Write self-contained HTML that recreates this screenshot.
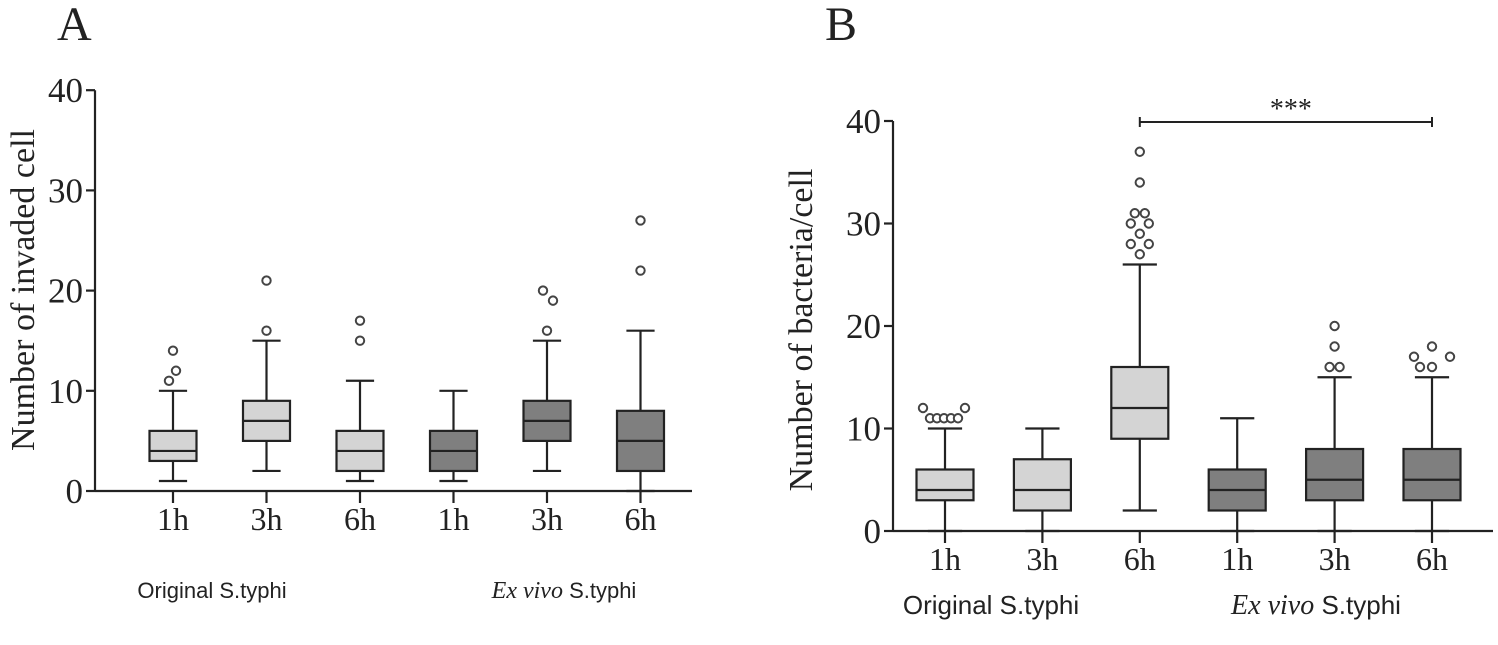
<!DOCTYPE html>
<html><head><meta charset="utf-8"><style>
body{margin:0;background:#fff}
svg text{font-family:"Liberation Serif",serif;fill:#222}
</style></head><body>
<svg id="c" width="1498" height="640" viewBox="0 0 1498 640"></svg>
<script>
const catsA=["1h","3h","6h","1h","3h","6h"];
const statsA=[[1,3,4,6,10],[2,5,7,9,15],[1,2,4,6,11],[1,2,4,6,10],[2,5,7,9,15],[0,2,5,8,16]];
const outA=[[11,12,14],[16,21],[15,17],[],[16,19,20],[22,27]];
const outAdx=[[-4,3,0],[0,0],[0,0],[],[0,6,-4],[0,0]];
const statsB=[[0,3,4,6,10],[0,2,4,7,10],[2,9,12,16,26],[0,2,4,6,11],[0,3,5,8,15],[0,3,5,8,15]];
const outB=[[12,11,11,11,11,11,12],[],[27,28,28,29,30,30,31,31,34,37],[],[16,16,18,20],[16,16,17,17,18]];
const outBdx=[[-22,-15,-8,-1,6,13,20],[],[0,-9,9,0,-9,9,-5,5,0,0],[],[-5,5,0,0],[-12,0,-18,18,0]];
const yTicks=[0,10,20,30,40];
const svg=document.getElementById('c');
const NS="http://www.w3.org/2000/svg";
function mk(t,a,p){const e=document.createElementNS(NS,t);for(const k in a)e.setAttribute(k,a[k]);(p||svg).appendChild(e);return e;}
function panel(o){
  const g=mk('g',{});
  
  
  const y=v=>o.y0-v*o.py, x=i=>o.x0+i*o.dx;
  mk('line',{x1:o.ax,y1:y(40),x2:o.ax,y2:o.y0,stroke:'#222','stroke-width':2.2},g);
  mk('line',{x1:o.ax,y1:o.y0,x2:o.axEnd,y2:o.y0,stroke:'#222','stroke-width':2.2},g);
  yTicks.forEach(t=>{mk('line',{x1:o.ax-9,y1:y(t),x2:o.ax,y2:y(t),stroke:'#222','stroke-width':2.2},g);
    const tx=mk('text',{x:o.ax-12,y:y(t)+12,'text-anchor':'end','font-size':35},g);tx.textContent=t;
    });
  o.stats.forEach((s,i)=>{
    const cx=x(i),w=o.bw,fill=i<3?'#d4d4d4':'#7f7f7f';
    mk('line',{x1:cx,y1:o.y0,x2:cx,y2:o.y0+12,stroke:'#222','stroke-width':2.2},g);
    const bg=mk('g',{},g);
    
    
    mk('line',{x1:cx,y1:y(s[0]),x2:cx,y2:y(s[4]),stroke:'#222','stroke-width':2.2},bg);
    mk('line',{x1:cx-w*0.3,y1:y(s[0]),x2:cx+w*0.3,y2:y(s[0]),stroke:'#222','stroke-width':2.2},bg);
    mk('line',{x1:cx-w*0.3,y1:y(s[4]),x2:cx+w*0.3,y2:y(s[4]),stroke:'#222','stroke-width':2.2},bg);
    mk('rect',{x:cx-w/2,y:y(s[3]),width:w,height:y(s[1])-y(s[3]),fill:fill,stroke:'#222','stroke-width':2.2},bg);
    mk('line',{x1:cx-w/2,y1:y(s[2]),x2:cx+w/2,y2:y(s[2]),stroke:'#222','stroke-width':2.2},bg);
    o.out[i].forEach((v,j)=>{const c=mk('circle',{cx:cx+o.odx[i][j],cy:y(v),r:4.2,fill:'#fff',stroke:'#444','stroke-width':2},bg);
      });
    const t=mk('text',{x:cx,y:o.catY,'text-anchor':'middle','font-size':32},g);t.textContent=catsA[i];
    
  });
  const t1=mk('text',{x:o.g1x,y:o.grpY,'text-anchor':'middle','font-size':o.gfs,style:'font-family:Liberation Sans,sans-serif'},g);
  t1.textContent='Original S.typhi';
  const t2=mk('text',{x:o.g2x,y:o.grpY,'text-anchor':'middle','font-size':o.gfs},g);
  t2.innerHTML='<tspan font-style="italic" font-size="'+(o.gfs+2)+'">Ex vivo</tspan><tspan style="font-family:Liberation Sans,sans-serif"> S.typhi</tspan>';
  
  const yt=mk('text',{x:0,y:0,'text-anchor':'middle','font-size':34,transform:`translate(${o.ytx},${o.yty}) rotate(-90)`},g);
  yt.textContent=o.ytitle;
  const pl=mk('text',{x:o.plx,y:40,'font-size':48},g);pl.textContent=o.letter;
  
  return {x,y,g};
}
panel({name:'panel-a',letter:'A',plx:57,ax:95,axEnd:692,y0:491,py:10.02,x0:173,dx:93.5,bw:47,stats:statsA,out:outA,odx:outAdx,catY:530,grpY:598,g1x:212,g2x:564,gfs:22,ytx:34,yty:290,ytitle:'Number of invaded cell'});
const pb=panel({name:'panel-b',letter:'B',plx:825,ax:893,axEnd:1493,y0:531,py:10.25,x0:945,dx:97.4,bw:57,stats:statsB,out:outB,odx:outBdx,catY:570,grpY:614,g1x:991,g2x:1316,gfs:26,ytx:812,yty:330,ytitle:'Number of bacteria/cell'});
const sg=mk('g',{});
mk('line',{x1:pb.x(2),y1:122,x2:pb.x(5),y2:122,stroke:'#222','stroke-width':2},sg);
mk('line',{x1:pb.x(2),y1:117,x2:pb.x(2),y2:127,stroke:'#222','stroke-width':2},sg);
mk('line',{x1:pb.x(5),y1:117,x2:pb.x(5),y2:127,stroke:'#222','stroke-width':2},sg);
const st=mk('text',{x:(pb.x(2)+pb.x(5))/2+5,y:118,'text-anchor':'middle','font-size':28},sg);st.textContent='***';
</script>
</body></html>
